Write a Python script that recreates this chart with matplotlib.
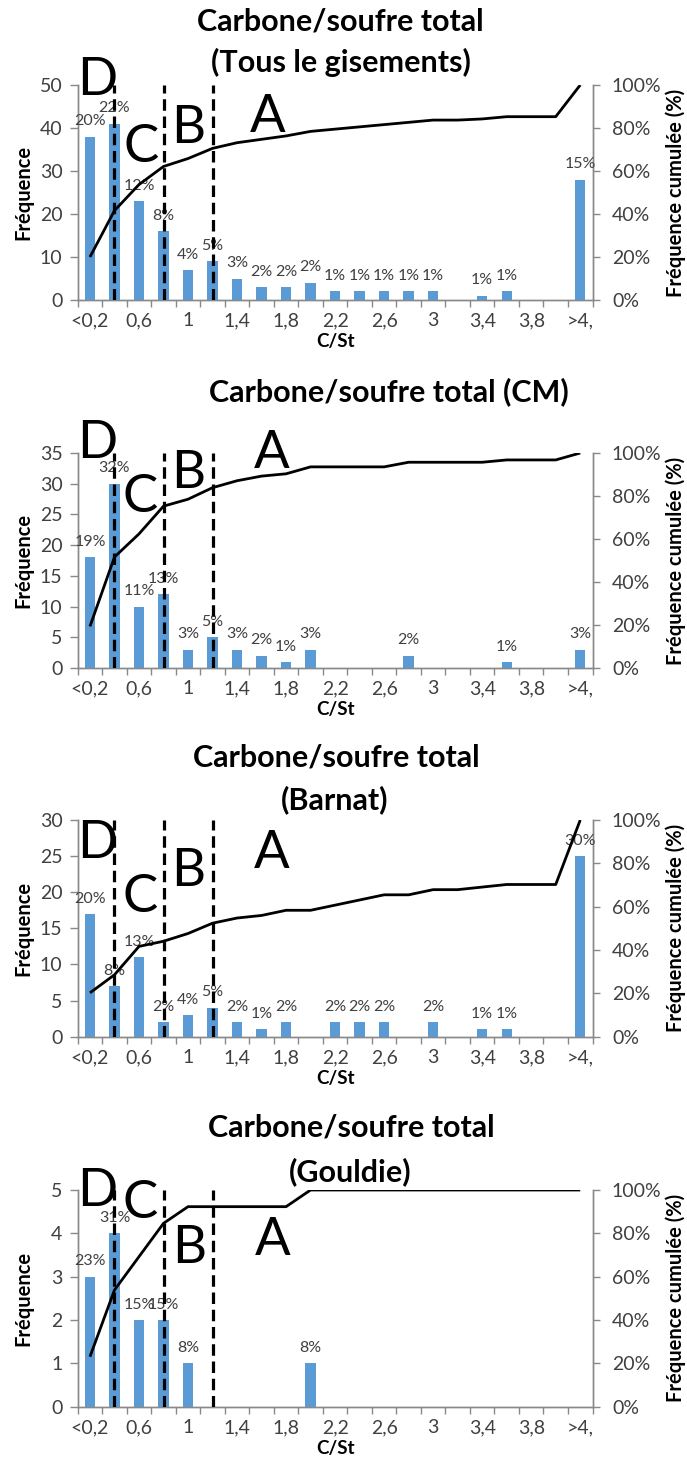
import numpy as np
import matplotlib
matplotlib.use("Agg")
import matplotlib.pyplot as plt
from matplotlib.ticker import FixedLocator, NullFormatter, FuncFormatter

plt.rcParams['font.family'] = ['Lato', 'DejaVu Sans']

# ---------------- data ----------------
categories = ['<0,2', '0,4', '0,6', '0,8', '1', '1,2', '1,4', '1,6', '1,8', '2',
              '2,2', '2,4', '2,6', '2,8', '3', '3,2', '3,4', '3,6', '3,8', '4', '>4,']
freq_all = [38, 41, 23, 16, 7, 9, 5, 3, 3, 4, 2, 2, 2, 2, 2, 0, 1, 2, 0, 0, 28]
freq_cm = [18, 30, 10, 12, 3, 5, 3, 2, 1, 3, 0, 0, 0, 2, 0, 0, 0, 1, 0, 0, 3]
freq_barnat = [17, 7, 11, 2, 3, 4, 2, 1, 2, 0, 2, 2, 2, 0, 2, 0, 1, 1, 0, 0, 25]
freq_gouldie = [3, 4, 2, 2, 1, 0, 0, 0, 0, 1, 0, 0, 0, 0, 0, 0, 0, 0, 0, 0, 0]
class_limits = ['0,4', '0,8', '1,2']   # dashed class boundaries
zone_letters = ['D', 'C', 'B', 'A']

# ---------------- style ----------------
W, H = 687, 1466
BAR = '#5B9BD5'
GRAY = '#898989'
TXT = '#404040'

fig = plt.figure(figsize=(W / 100, H / 100), dpi=100)


def px_box(left, right, top, bottom):
    return [left / W, 1 - bottom / H, (right - left) / W, (bottom - top) / H]


panels = [
    dict(freq=freq_all, ymax=50, ystep=10, box=(77.7, 592.5, 85, 300),
         titles=[("Carbone/soufre total", 340, 22), ("(Tous le gisements)", 341, 62)],
         letters=[(0.31, 47.7), (2.09, 32.2), (3.99, 36.4), (7.25, 39.1)]),
    dict(freq=freq_cm, ymax=35, ystep=5, box=(77.7, 592.5, 453, 668),
         titles=[("Carbone/soufre total (CM)", 389, 392)],
         letters=[(0.30, 34.2), (2.05, 25.4), (4.0, 29.3), (7.4, 32.6)]),
    dict(freq=freq_barnat, ymax=30, ystep=5, box=(77.7, 592.5, 820, 1036.7),
         titles=[("Carbone/soufre total", 336, 758), ("(Barnat)", 335, 800)],
         letters=[(0.30, 24.75), (2.05, 17.3), (4.0, 20.8), (7.4, 23.4)]),
    dict(freq=freq_gouldie, ymax=5, ystep=1, box=(77.7, 592.5, 1190, 1406.7),
         titles=[("Carbone/soufre total", 351, 1128), ("(Gouldie)", 350, 1172)],
         letters=[(0.28, 4.62), (2.06, 4.35), (4.03, 3.32), (7.45, 3.50)]),
]

x = np.arange(len(categories))
for p in panels:
    freq = np.array(p['freq'], dtype=float)
    total = freq.sum()
    cum = np.cumsum(freq) / total

    ax = fig.add_axes(px_box(*p['box']))
    ax2 = ax.twinx()
    ax.set_zorder(ax2.get_zorder() + 1)
    ax.patch.set_visible(False)

    ax.bar(x, freq, width=0.42, color=BAR, zorder=2)
    for xi, v in zip(x, freq):
        if v > 0:
            pct = np.floor(v / total * 100 + 0.5)
            ax.annotate(f"{pct:.0f}%", (xi, v), xytext=(0, 6), textcoords='offset points',
                        ha='center', va='bottom', fontsize=11.5, color=TXT, zorder=3)

    for c in class_limits:
        ax.axvline(categories.index(c), color='black', lw=2.3, dashes=(3.6, 1.8), zorder=4)

    ax.plot(x, cum * p['ymax'], color='black', lw=2.0, zorder=5, solid_capstyle='butt')

    for letter, (lx, ly) in zip(zone_letters, p['letters']):
        ax.text(lx, ly, letter, fontsize=38, ha='center', va='baseline', color='black',
                zorder=6, clip_on=False)

    ax.set_xlim(-0.5, len(categories) - 0.5)
    ax.set_ylim(0, p['ymax'])
    ax2.set_ylim(0, 1)

    # x ticks: marks at boundaries, labels every other category
    ax.xaxis.set_major_locator(FixedLocator(np.arange(-0.5, len(categories), 1)))
    ax.xaxis.set_major_formatter(NullFormatter())
    ax.set_xticks(x[::2], labels=[categories[i] for i in x[::2]], minor=True)
    ax.tick_params(axis='x', which='major', length=5, width=1, color=GRAY, direction='out')
    ax.tick_params(axis='x', which='minor', length=0, pad=9, labelsize=14, labelcolor=TXT)

    ax.set_yticks(np.arange(0, p['ymax'] + 0.1, p['ystep']))
    ax.tick_params(axis='y', which='major', length=6, width=1, color=GRAY, pad=5,
                   labelsize=14, labelcolor=TXT)
    ax2.set_yticks(np.linspace(0, 1, 6))
    ax2.yaxis.set_major_formatter(FuncFormatter(lambda v, _: f"{v * 100:.0f}%"))
    ax2.tick_params(axis='y', length=5, width=1, color=GRAY, pad=9, labelsize=14, labelcolor=TXT)

    for a in (ax, ax2):
        a.spines['top'].set_visible(False)
        for s in ('left', 'right', 'bottom'):
            a.spines[s].set_color(GRAY)
            a.spines[s].set_linewidth(1)

    ax.set_ylabel('Fréquence', fontsize=14.5, fontweight='bold')
    ax.yaxis.set_label_coords(-0.087, 0.5)
    ax2.set_ylabel('Fréquence cumulée (%)', fontsize=14.5, fontweight='bold')
    ax2.yaxis.set_label_coords(1.142, 0.5)
    ax.set_xlabel('C/St', fontsize=13.5, fontweight='bold')
    ax.xaxis.set_label_coords(0.5, -0.155)

    for t, tx, ty in p['titles']:
        fig.text(tx / W, 1 - ty / H, t, fontsize=22, fontweight='bold', ha='center', va='center')

fig.savefig('out.png', dpi=100)
